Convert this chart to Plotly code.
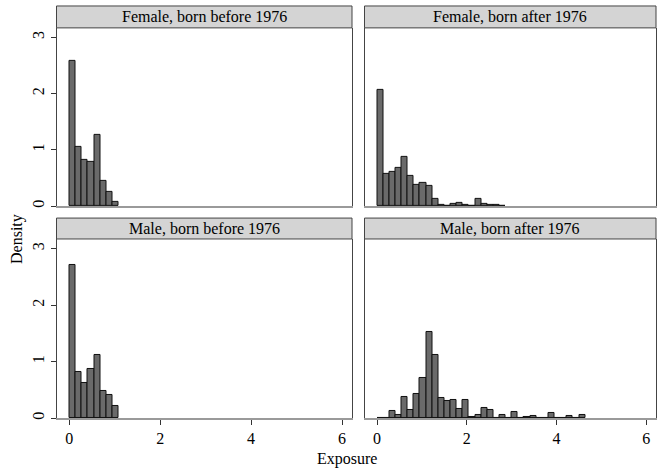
import plotly.graph_objects as go

# ---- data ----
bin_width = 0.1365  # histogram bin width (Exposure units), bins start at 0
panel_titles = ["Female, born before 1976", "Female, born after 1976",
                "Male, born before 1976", "Male, born after 1976"]
female_before = [2.59, 1.05, 0.83, 0.79, 1.26, 0.45, 0.26, 0.08]
female_after = [2.06, 0.57, 0.61, 0.68, 0.87, 0.54, 0.37, 0.41, 0.36, 0.12,
                0.02, 0.01, 0.04, 0.065, 0.015, 0.01, 0.12, 0.035, 0.03, 0.015, 0.01]
male_before = [2.71, 0.82, 0.63, 0.87, 1.12, 0.48, 0.41, 0.21]
male_after = [0, 0, 0.13, 0.05, 0.37, 0.14, 0.43, 0.71, 1.53, 1.12, 0.36, 0.30,
              0.32, 0.16, 0.32, 0.02, 0.06, 0.18, 0.14, 0, 0.05, 0, 0.11, 0,
              0.02, 0.035, 0, 0, 0.09, 0, 0, 0.035, 0, 0.06]
x_ticks = [0, 2, 4, 6]
y_ticks = [0, 1, 2, 3]
x_title = "Exposure"
y_title = "Density"

series = [female_before, female_after, male_before, male_after]

# ---- layout geometry (pixels in a 657x471 canvas) ----
W, H = 657, 471
FONT = "Liberation Serif, Times New Roman, serif"
FS = 16
cols = [(56.5, 352), (364.5, 656)]
rows = [(6, 28, 207), (219, 240, 420)]  # header top, plot top, plot bottom

def px_x(p):
    return p / W

def px_y(p):
    return 1 - p / H

fig = go.Figure()
layout = dict(
    width=W, height=H,
    margin=dict(l=0, r=0, t=0, b=0),
    paper_bgcolor="white", plot_bgcolor="white",
    showlegend=False,
    bargap=0,
    font=dict(family=FONT, size=FS, color="black"),
)
shapes = []
annotations = []

for k, vals in enumerate(series):
    r, c = divmod(k, 2)
    idx = "" if k == 0 else str(k + 1)
    xl, xr = cols[c]
    ht, pt, pb = rows[r]
    centers = [bin_width * (i + 0.5) for i in range(len(vals))]
    fig.add_trace(go.Bar(
        x=centers, y=vals, width=bin_width,
        marker=dict(color="#6a6a6a", line=dict(color="#111111", width=1)),
        xaxis="x" + idx, yaxis="y" + idx,
    ))
    layout["xaxis" + idx] = dict(
        domain=[px_x(xl), px_x(xr)], anchor="y" + idx,
        range=[-0.28, 6.22], tickvals=x_ticks,
        showticklabels=(r == 1), ticks="outside" if r == 1 else "",
        ticklen=5, tickcolor="#333", showgrid=False, zeroline=False,
        showline=True, linecolor="#9a9a9a", linewidth=1.5,
        tickfont=dict(family=FONT, size=FS, color="black"),
    )
    layout["yaxis" + idx] = dict(
        domain=[px_y(pb), px_y(pt)], anchor="x" + idx,
        range=[0, 3.17], tickvals=y_ticks,
        showticklabels=(c == 0), ticks="outside" if c == 0 else "",
        ticklen=5, tickcolor="#333", tickangle=-90,
        showgrid=False, zeroline=False,
        showline=True, linecolor="#444", linewidth=1, mirror=True,
        tickfont=dict(family=FONT, size=FS, color="black"),
    )
    # header strip
    shapes.append(dict(type="rect", xref="paper", yref="paper",
                       x0=px_x(xl), x1=px_x(xr), y0=px_y(pt), y1=px_y(ht),
                       fillcolor="#d4d4d4", line=dict(color="#444", width=1),
                       layer="above"))
    annotations.append(dict(text=panel_titles[k], xref="paper", yref="paper",
                            x=px_x((xl + xr) / 2), y=px_y((ht + pt) / 2),
                            xanchor="center", yanchor="middle", showarrow=False,
                            font=dict(family=FONT, size=FS, color="black")))

annotations.append(dict(text=x_title, xref="paper", yref="paper",
                        x=px_x(347), y=px_y(461), xanchor="center", yanchor="middle",
                        showarrow=False, font=dict(family=FONT, size=FS, color="black")))
annotations.append(dict(text=y_title, xref="paper", yref="paper",
                        x=px_x(17), y=px_y(240), xanchor="center", yanchor="middle",
                        textangle=-90, showarrow=False,
                        font=dict(family=FONT, size=FS, color="black")))

layout["shapes"] = shapes
layout["annotations"] = annotations
fig.update_layout(**layout)
fig.write_html("out.html")
